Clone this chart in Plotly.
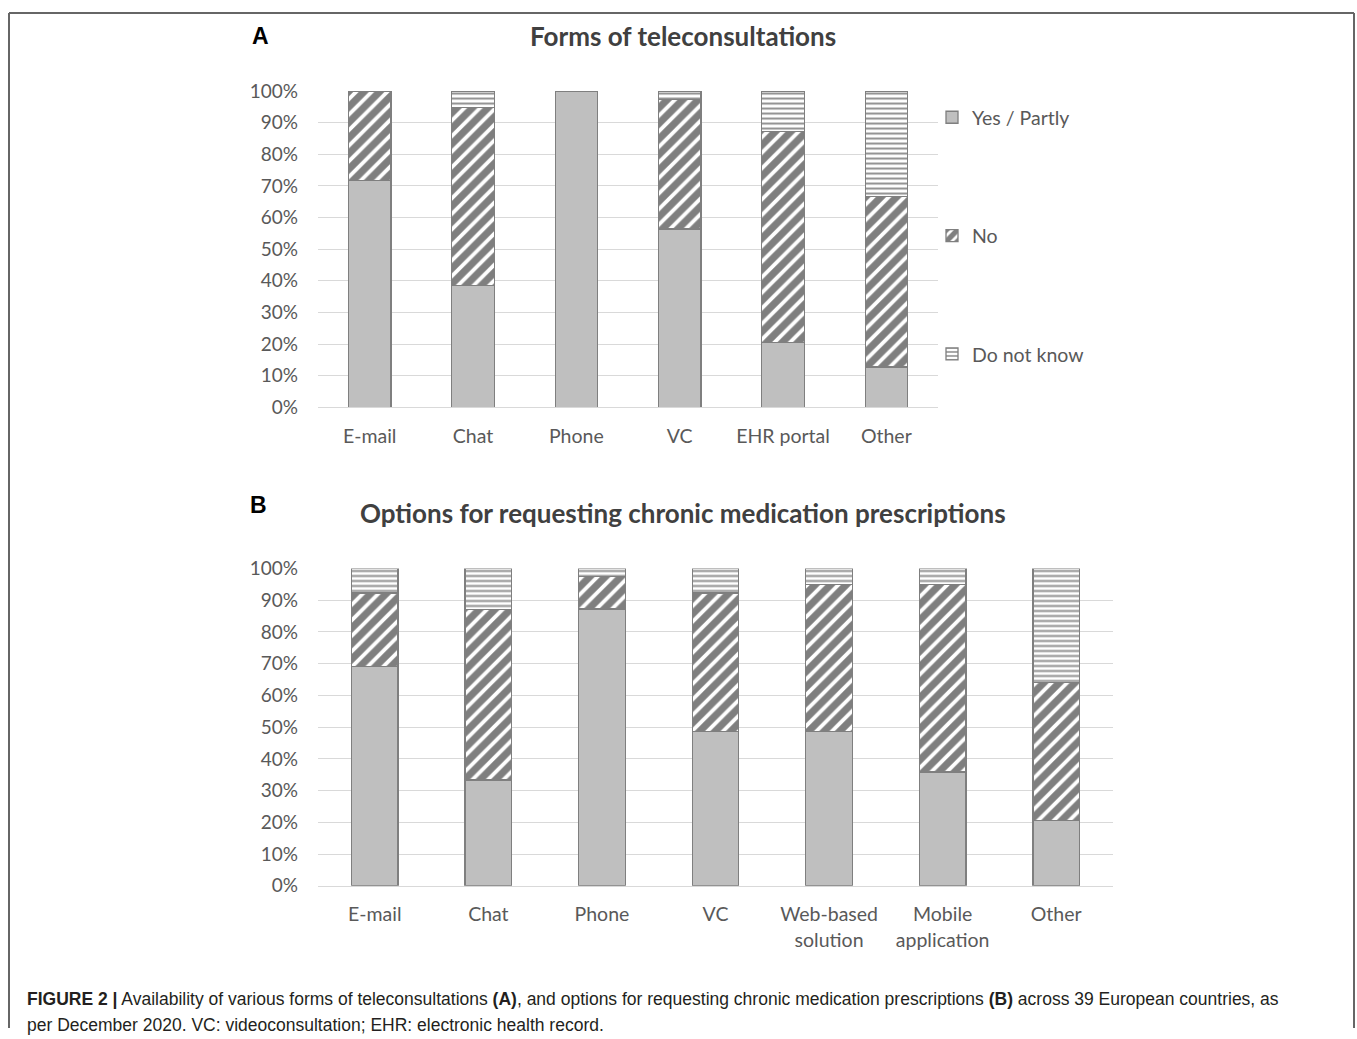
import plotly.graph_objects as go

W, H = 1357, 1039

# ---- data (share of 39 countries, %) ----
cats_a = ["E-mail", "Chat", "Phone", "VC", "EHR portal", "Other"]
yes_a = [71.8, 38.5, 100.0, 56.4, 20.5, 12.8]
no_a = [28.2, 56.4, 0.0, 41.0, 66.7, 53.8]
dnk_a = [0.0, 5.1, 0.0, 2.6, 12.8, 33.4]

cats_b = ["E-mail", "Chat", "Phone", "VC", "Web-based<br>solution", "Mobile<br>application", "Other"]
yes_b = [69.2, 33.3, 87.2, 48.7, 48.7, 35.9, 20.5]
no_b = [23.1, 53.8, 10.3, 43.6, 46.2, 59.0, 43.6]
dnk_b = [7.7, 12.9, 2.5, 7.7, 5.1, 5.1, 35.9]

y_ticks = list(range(0, 101, 10))
y_tick_text = [f"{v}%" for v in y_ticks]
series_names = ["Yes / Partly", "No", "Do not know"]

TXT = "#595959"
GRID = "#d9d9d9"
EDGE = "#7f7f7f"

# pixel -> paper helpers (vertical mapping compensates the capture's offset/scale)
Y_OFF, Y_K = 12.0, 0.977

def px_x(p):
    return p / W

def px_y(p):
    return 1 - ((p - Y_OFF) / Y_K) / H

styles = [
    dict(color="#bfbfbf", line=dict(color=EDGE, width=1.3)),
    dict(color="white", line=dict(color=EDGE, width=1.3),
         pattern=dict(shape="/", fgcolor="black", bgcolor="white", size=11, solidity=0.65)),
    dict(color="white", line=dict(color=EDGE, width=1.3),
         pattern=dict(shape="-", fgcolor="#222222", bgcolor="white", size=5, solidity=0.4)),
]

fig = go.Figure()
for i, (name, vals) in enumerate(zip(series_names, [yes_a, no_a, dnk_a])):
    fig.add_trace(go.Bar(x=cats_a, y=vals, name=name, marker=styles[i],
                         xaxis="x", yaxis="y", legendgroup=name, showlegend=True))
for i, (name, vals) in enumerate(zip(series_names, [yes_b, no_b, dnk_b])):
    fig.add_trace(go.Bar(x=cats_b, y=vals, name=name, marker=styles[i],
                         xaxis="x2", yaxis="y2", legendgroup=name, showlegend=False))

font_main = "Lato, 'Open Sans', sans-serif"

yax_common = dict(range=[0, 100], tickvals=y_ticks, ticktext=y_tick_text, showgrid=True,
                  gridcolor=GRID, gridwidth=1, zeroline=False, showline=False,
                  tickfont=dict(family=font_main, size=19, color=TXT),
                  ticklabelstandoff=19, fixedrange=True)
xax_common = dict(showline=True, linecolor=GRID, linewidth=1, showgrid=False,
                  tickfont=dict(family=font_main, size=19.5, color=TXT),
                  ticklabelstandoff=11, fixedrange=True)

fig.update_layout(
    width=W, height=H, autosize=False,
    margin=dict(l=0, r=0, t=0, b=0),
    paper_bgcolor="white", plot_bgcolor="white",
    barmode="stack", bargap=0.59,
    xaxis=dict(domain=[px_x(318), px_x(938)], anchor="y", **xax_common),
    yaxis=dict(domain=[px_y(407), px_y(91)], anchor="x", **yax_common),
    xaxis2=dict(domain=[px_x(318), px_x(1113)], anchor="y2", **xax_common),
    yaxis2=dict(domain=[px_y(885), px_y(568)], anchor="x2", **yax_common),
    legend=dict(x=px_x(932), y=px_y(98), xanchor="left", yanchor="top",
                traceorder="grouped", tracegroupgap=90,
                font=dict(family=font_main, size=19.5, color=TXT),
                itemwidth=30, bgcolor="rgba(0,0,0,0)"),
    showlegend=True,
)

cap_font = dict(family="Liberation Sans, Arial, sans-serif", size=17.5, color="#231f20")
annos = [
    dict(text="<b>Forms of teleconsultations</b>", x=px_x(683), y=px_y(36),
         font=dict(family=font_main, size=26, color="#404040")),
    dict(text="<b>Options for requesting chronic medication prescriptions</b>", x=px_x(683), y=px_y(513),
         font=dict(family=font_main, size=26, color="#404040")),
    dict(text="<b>A</b>", x=px_x(260), y=px_y(36),
         font=dict(family="Liberation Sans, Arial, sans-serif", size=23, color="black")),
    dict(text="<b>B</b>", x=px_x(258), y=px_y(505),
         font=dict(family="Liberation Sans, Arial, sans-serif", size=23, color="black")),
    dict(text="<b>FIGURE 2 |</b> Availability of various forms of teleconsultations <b>(A)</b>, and options for requesting chronic medication prescriptions <b>(B)</b> across 39 European countries, as",
         x=px_x(25), y=px_y(998), xanchor="left", font=cap_font),
    dict(text="per December 2020. VC: videoconsultation; EHR: electronic health record.",
         x=px_x(25), y=px_y(1024), xanchor="left", font=cap_font),
]
for a in annos:
    a.setdefault("xanchor", "center")
    fig.add_annotation(xref="paper", yref="paper", yanchor="middle", showarrow=False, **a)

# outer frame (top, left, right)
frame = dict(type="line", xref="paper", yref="paper", line=dict(color="#666666", width=2))
top = 1 - 1.0 / H
fig.add_shape(x0=px_x(9), x1=px_x(1354), y0=top, y1=top, **frame)
fig.add_shape(x0=px_x(9), x1=px_x(9), y0=top, y1=0, **frame)
fig.add_shape(x0=px_x(1354), x1=px_x(1354), y0=top, y1=0, **frame)

post = ("var gd=document.getElementById('{plot_id}');"
        "gd.style.position='fixed';gd.style.top='0px';gd.style.left='0px';"
        "document.body.style.margin='0';document.body.style.padding='0';"
        "document.documentElement.style.overflow='hidden';document.body.style.overflow='hidden';")
fig.write_html("out.html", post_script=post, config={"displayModeBar": False})
